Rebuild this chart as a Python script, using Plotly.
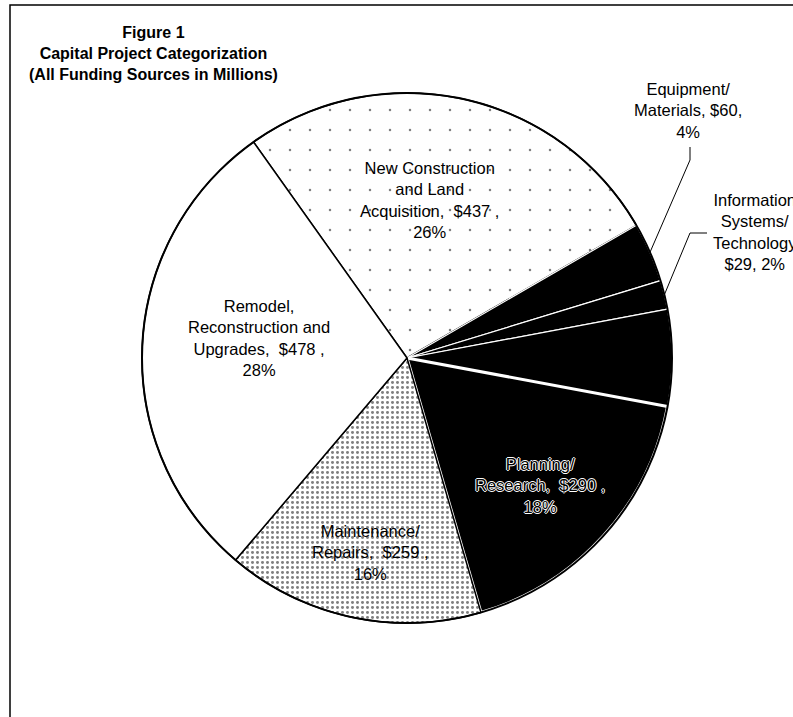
import math
import plotly.graph_objects as go

# ---- data -------------------------------------------------------------
# Capital project categories, listed clockwise from the top-left of the pie
categories = [
    "New Construction and Land Acquisition",
    "Equipment/Materials",
    "Information Systems/Technology",
    "Other",
    "Planning/Research",
    "Maintenance/Repairs",
    "Remodel, Reconstruction and Upgrades",
]
funding_millions = [437, 60, 29, 97, 290, 259, 478]
percent_labels = [26, 4, 2, None, 18, 16, 28]

# words of each slice label (value and percent are appended below)
label_words = [
    ["New Construction", "and Land", "Acquisition,"],
    ["Equipment/", "Materials,"],
    ["Information", "Systems/", "Technology"],
    None,
    ["Planning/", "Research,"],
    ["Maintenance/", "Repairs,"],
    ["Remodel,", "Reconstruction and", "Upgrades,"],
]

# ---- page geometry ------------------------------------------------------
W, H = 793, 717
CX, CY, R = 407, 358, 265          # pie centre and radius in pixels
START_ANGLE = -35.4                # where the first slice begins (deg, clockwise from 12 o'clock)
FONT = "Arial, Liberation Sans, sans-serif"
NBSP = "\u00a0"


def paper(x, y):
    return x / W, 1 - y / H


def rim_point(angle_deg):
    a = math.radians(angle_deg)
    return CX + R * math.sin(a), CY - R * math.cos(a)


total = sum(funding_millions)
mid_angles = []
acc = 0.0
for v in funding_millions:
    mid_angles.append(START_ANGLE + (acc + v / 2) / total * 360)
    acc += v


def label_text(i):
    words = label_words[i]
    v, p = funding_millions[i], percent_labels[i]
    if i == 1:
        lines = words[:-1] + [f"{words[-1]} ${v},", f"{p}%"]
    elif i == 2:
        lines = words + [f"${v}, {p}%"]
    else:
        lines = words[:-1] + [f"{words[-1]}{NBSP}{NBSP}${v} ,", f"{p}%"]
    return "<br>".join(lines)


# label centres (px) and leader elbows for the labels set outside the pie
label_pos = {0: (429, 200), 1: (688, 110), 2: (755, 232),
             4: (540, 485), 5: (370, 552), 6: (259, 338)}
leader_elbows = {1: [(690, 147), (690, 160)], 2: [(707, 233), (690, 233)]}

# ---- slice styling --------------------------------------------------------
fill = ["white", "black", "black", "black", "black", "white", "white"]
edge = ["black", "white", "white", "white", "white", "black", "black"]
edge_w = [1.5, 1.2, 1.2, 1.2, 3, 1.5, 1.5]
pat_shape = [".", "", "", "", "", ".", ""]
pat_size = [20, 8, 8, 8, 8, 5, 8]
pat_solid = [0.012, 0.1, 0.1, 0.1, 0.1, 0.28, 0.1]

x0, y0 = paper(CX - R, CY + R)
x1, y1 = paper(CX + R, CY - R)
dom = dict(x=[x0, x1], y=[y0, y1])

fig = go.Figure()
fig.add_trace(go.Pie(
    values=funding_millions, labels=categories, sort=False,
    direction="clockwise", rotation=START_ANGLE, textinfo="none",
    hoverinfo="label+value", domain=dom, showlegend=False,
    marker=dict(colors=fill, line=dict(color=edge, width=edge_w),
                pattern=dict(shape=pat_shape, size=pat_size, solidity=pat_solid,
                             fgcolor="black", fillmode="overlay")),
))
# outer rim drawn as a single full-circle slice
fig.add_trace(go.Pie(
    values=[total], labels=["total"], sort=False, textinfo="none",
    hoverinfo="skip", domain=dom, showlegend=False,
    marker=dict(colors=["rgba(0,0,0,0)"], line=dict(color="black", width=2)),
))

annotations = []
# title block
tx, ty = paper(153, 53)
annotations.append(dict(
    x=tx, y=ty, xref="paper", yref="paper", xanchor="center", yanchor="middle",
    text="<b>Figure 1<br>Capital Project Categorization<br>(All Funding Sources in Millions)</b>",
    showarrow=False, font=dict(family=FONT, size=16, color="black")))

outline = "1px 0 0 white, -1px 0 0 white, 0 1px 0 white, 0 -1px 0 white"
for i, (px, py) in label_pos.items():
    ax, ay = paper(px, py)
    font = dict(family=FONT, size=16.5, color="black")
    if fill[i] == "black":
        font["shadow"] = outline
    annotations.append(dict(x=ax, y=ay, xref="paper", yref="paper",
                            xanchor="center", yanchor="middle", align="center",
                            text=label_text(i), showarrow=False, font=font))

shapes = []
for i, elbows in leader_elbows.items():
    pts = elbows + [rim_point(mid_angles[i])]
    for (ax_, ay_), (bx_, by_) in zip(pts[:-1], pts[1:]):
        p0, p1 = paper(ax_, ay_), paper(bx_, by_)
        shapes.append(dict(type="line", xref="paper", yref="paper",
                           x0=p0[0], y0=p0[1], x1=p1[0], y1=p1[1],
                           line=dict(color="black", width=1)))

# page frame (its right and bottom edges run off the page)
fx0, fy0 = paper(10, 5)
shapes.append(dict(type="rect", xref="paper", yref="paper",
                   x0=fx0, y0=-0.1, x1=1.1, y1=fy0,
                   line=dict(color="black", width=1.5)))

fig.update_layout(
    width=W, height=H, margin=dict(l=0, r=0, t=0, b=0),
    paper_bgcolor="white", plot_bgcolor="white",
    annotations=annotations, shapes=shapes, showlegend=False,
)

fig.write_html("out.html")
